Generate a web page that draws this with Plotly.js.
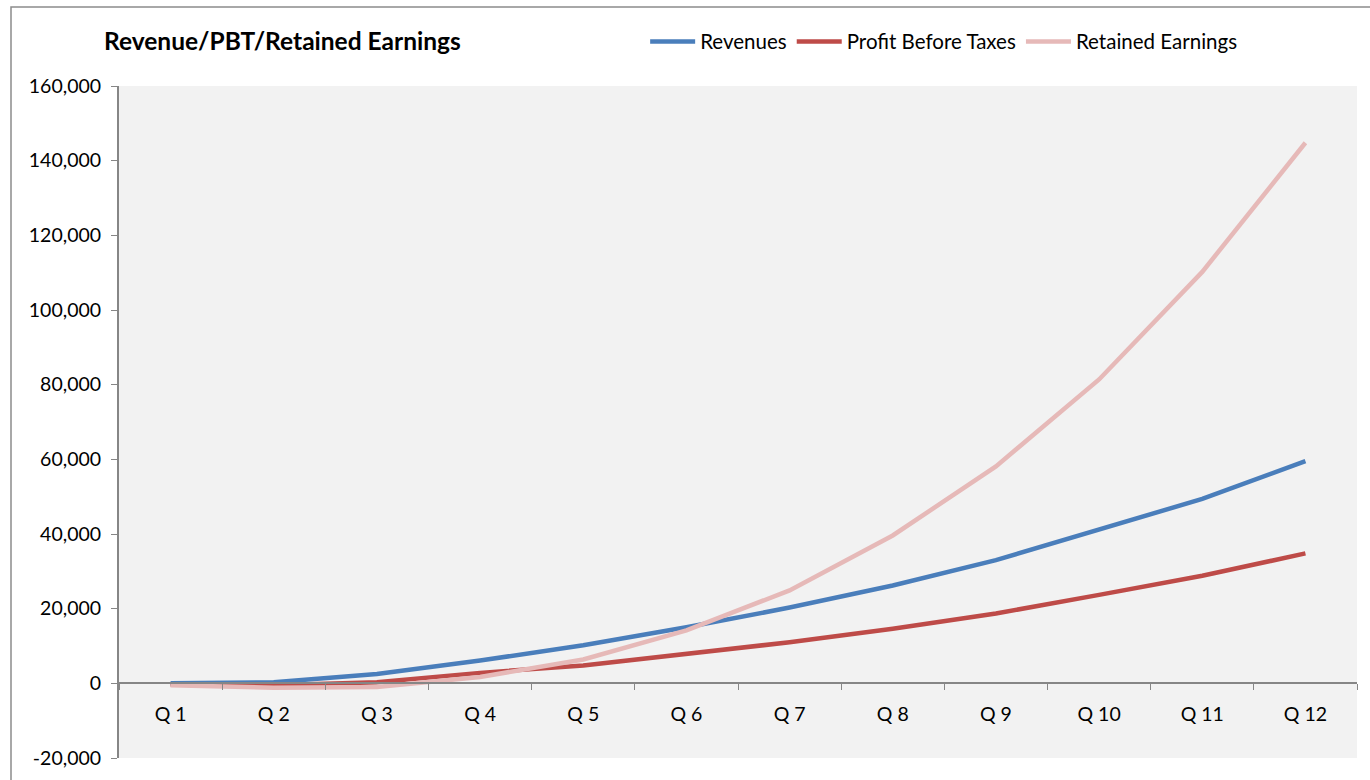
<!DOCTYPE html>
<html>
<head>
<meta charset="utf-8">
<script src="https://cdn.plot.ly/plotly-3.0.1.min.js"></script>
<style>
  html, body { margin: 0; padding: 0; background: #ffffff; }
  #chart { width: 1370px; height: 780px; }
</style>
</head>
<body>
<div id="chart"></div>
<script>
const quarters = ['Q 1', 'Q 2', 'Q 3', 'Q 4', 'Q 5', 'Q 6', 'Q 7', 'Q 8', 'Q 9', 'Q 10', 'Q 11', 'Q 12'];
const revenues = [0, 300, 2500, 6100, 10200, 15000, 20300, 26200, 33000, 41200, 49400, 59500];
const profitBeforeTaxes = [-300, -500, 300, 2800, 4800, 8000, 11000, 14600, 18700, 23700, 28800, 34800];
const retainedEarnings = [-500, -1200, -1000, 1700, 6400, 14200, 24900, 39600, 58100, 81400, 110200, 144800];
const yTickValues = [-20000, 0, 20000, 40000, 60000, 80000, 100000, 120000, 140000, 160000];
const yTickLabels = ['-20,000', '0', '20,000', '40,000', '60,000', '80,000', '100,000', '120,000', '140,000', '160,000'];

const FONT = 'Lato, "Open Sans", sans-serif';

function series(name, values, color) {
  return {
    type: 'scatter',
    mode: 'lines',
    name: name,
    x: quarters,
    y: values,
    line: { color: color, width: 4.5 },
    hoverinfo: 'x+y+name'
  };
}

const data = [
  series('Revenues', revenues, '#4a7ebb'),
  series('Profit Before Taxes', profitBeforeTaxes, '#be4b48'),
  series('Retained Earnings', retainedEarnings, '#e6b9b8')
];

const layout = {
  width: 1370,
  height: 780,
  margin: { l: 119, r: 13, t: 86, b: 22 },
  paper_bgcolor: '#ffffff',
  plot_bgcolor: '#f2f2f2',
  font: { family: FONT, size: 19.5, color: '#000000' },
  title: {
    text: '<b>Revenue/PBT/Retained Earnings</b>',
    font: { family: FONT, size: 24.5, color: '#000000' },
    xref: 'container', x: 104 / 1370, xanchor: 'left',
    yref: 'container', y: 1 - 41 / 780, yanchor: 'middle'
  },
  showlegend: true,
  legend: {
    orientation: 'h',
    x: 0.425, xanchor: 'left',
    y: 1.066, yanchor: 'middle',
    font: { family: FONT, size: 20.5, color: '#000000' },
    bgcolor: 'rgba(0,0,0,0)',
    itemwidth: 45,
    tracegroupgap: 0
  },
  xaxis: {
    type: 'category',
    anchor: 'free',
    position: 1 / 9,
    range: [-0.5, 11.5],
    showline: true,
    linecolor: '#868686',
    linewidth: 2,
    ticks: 'outside',
    tickson: 'boundaries',
    ticklen: 6,
    tickcolor: '#868686',
    tickwidth: 1,
    ticklabelstandoff: 13,
    showgrid: false,
    zeroline: false,
    tickfont: { family: FONT, size: 19.5, color: '#000000' }
  },
  yaxis: {
    range: [-20000, 160000],
    tickmode: 'array',
    tickvals: yTickValues,
    ticktext: yTickLabels,
    showline: true,
    linecolor: '#868686',
    linewidth: 2,
    ticks: 'outside',
    ticklen: 6,
    tickcolor: '#868686',
    tickwidth: 1,
    ticklabelstandoff: 6,
    showgrid: false,
    zeroline: false,
    tickfont: { family: FONT, size: 19.5, color: '#000000' }
  },
  shapes: [
    {
      type: 'rect', xref: 'paper', yref: 'paper',
      x0: (11 - 119) / 1238, x1: (1400 - 119) / 1238,
      y0: (758 - 800) / 672, y1: (758 - 7) / 672,
      line: { color: '#8c8c8c', width: 1.5 },
      fillcolor: 'rgba(0,0,0,0)',
      layer: 'below'
    }
  ]
};

Plotly.newPlot('chart', data, layout, { displayModeBar: false, responsive: false });
</script>
</body>
</html>
